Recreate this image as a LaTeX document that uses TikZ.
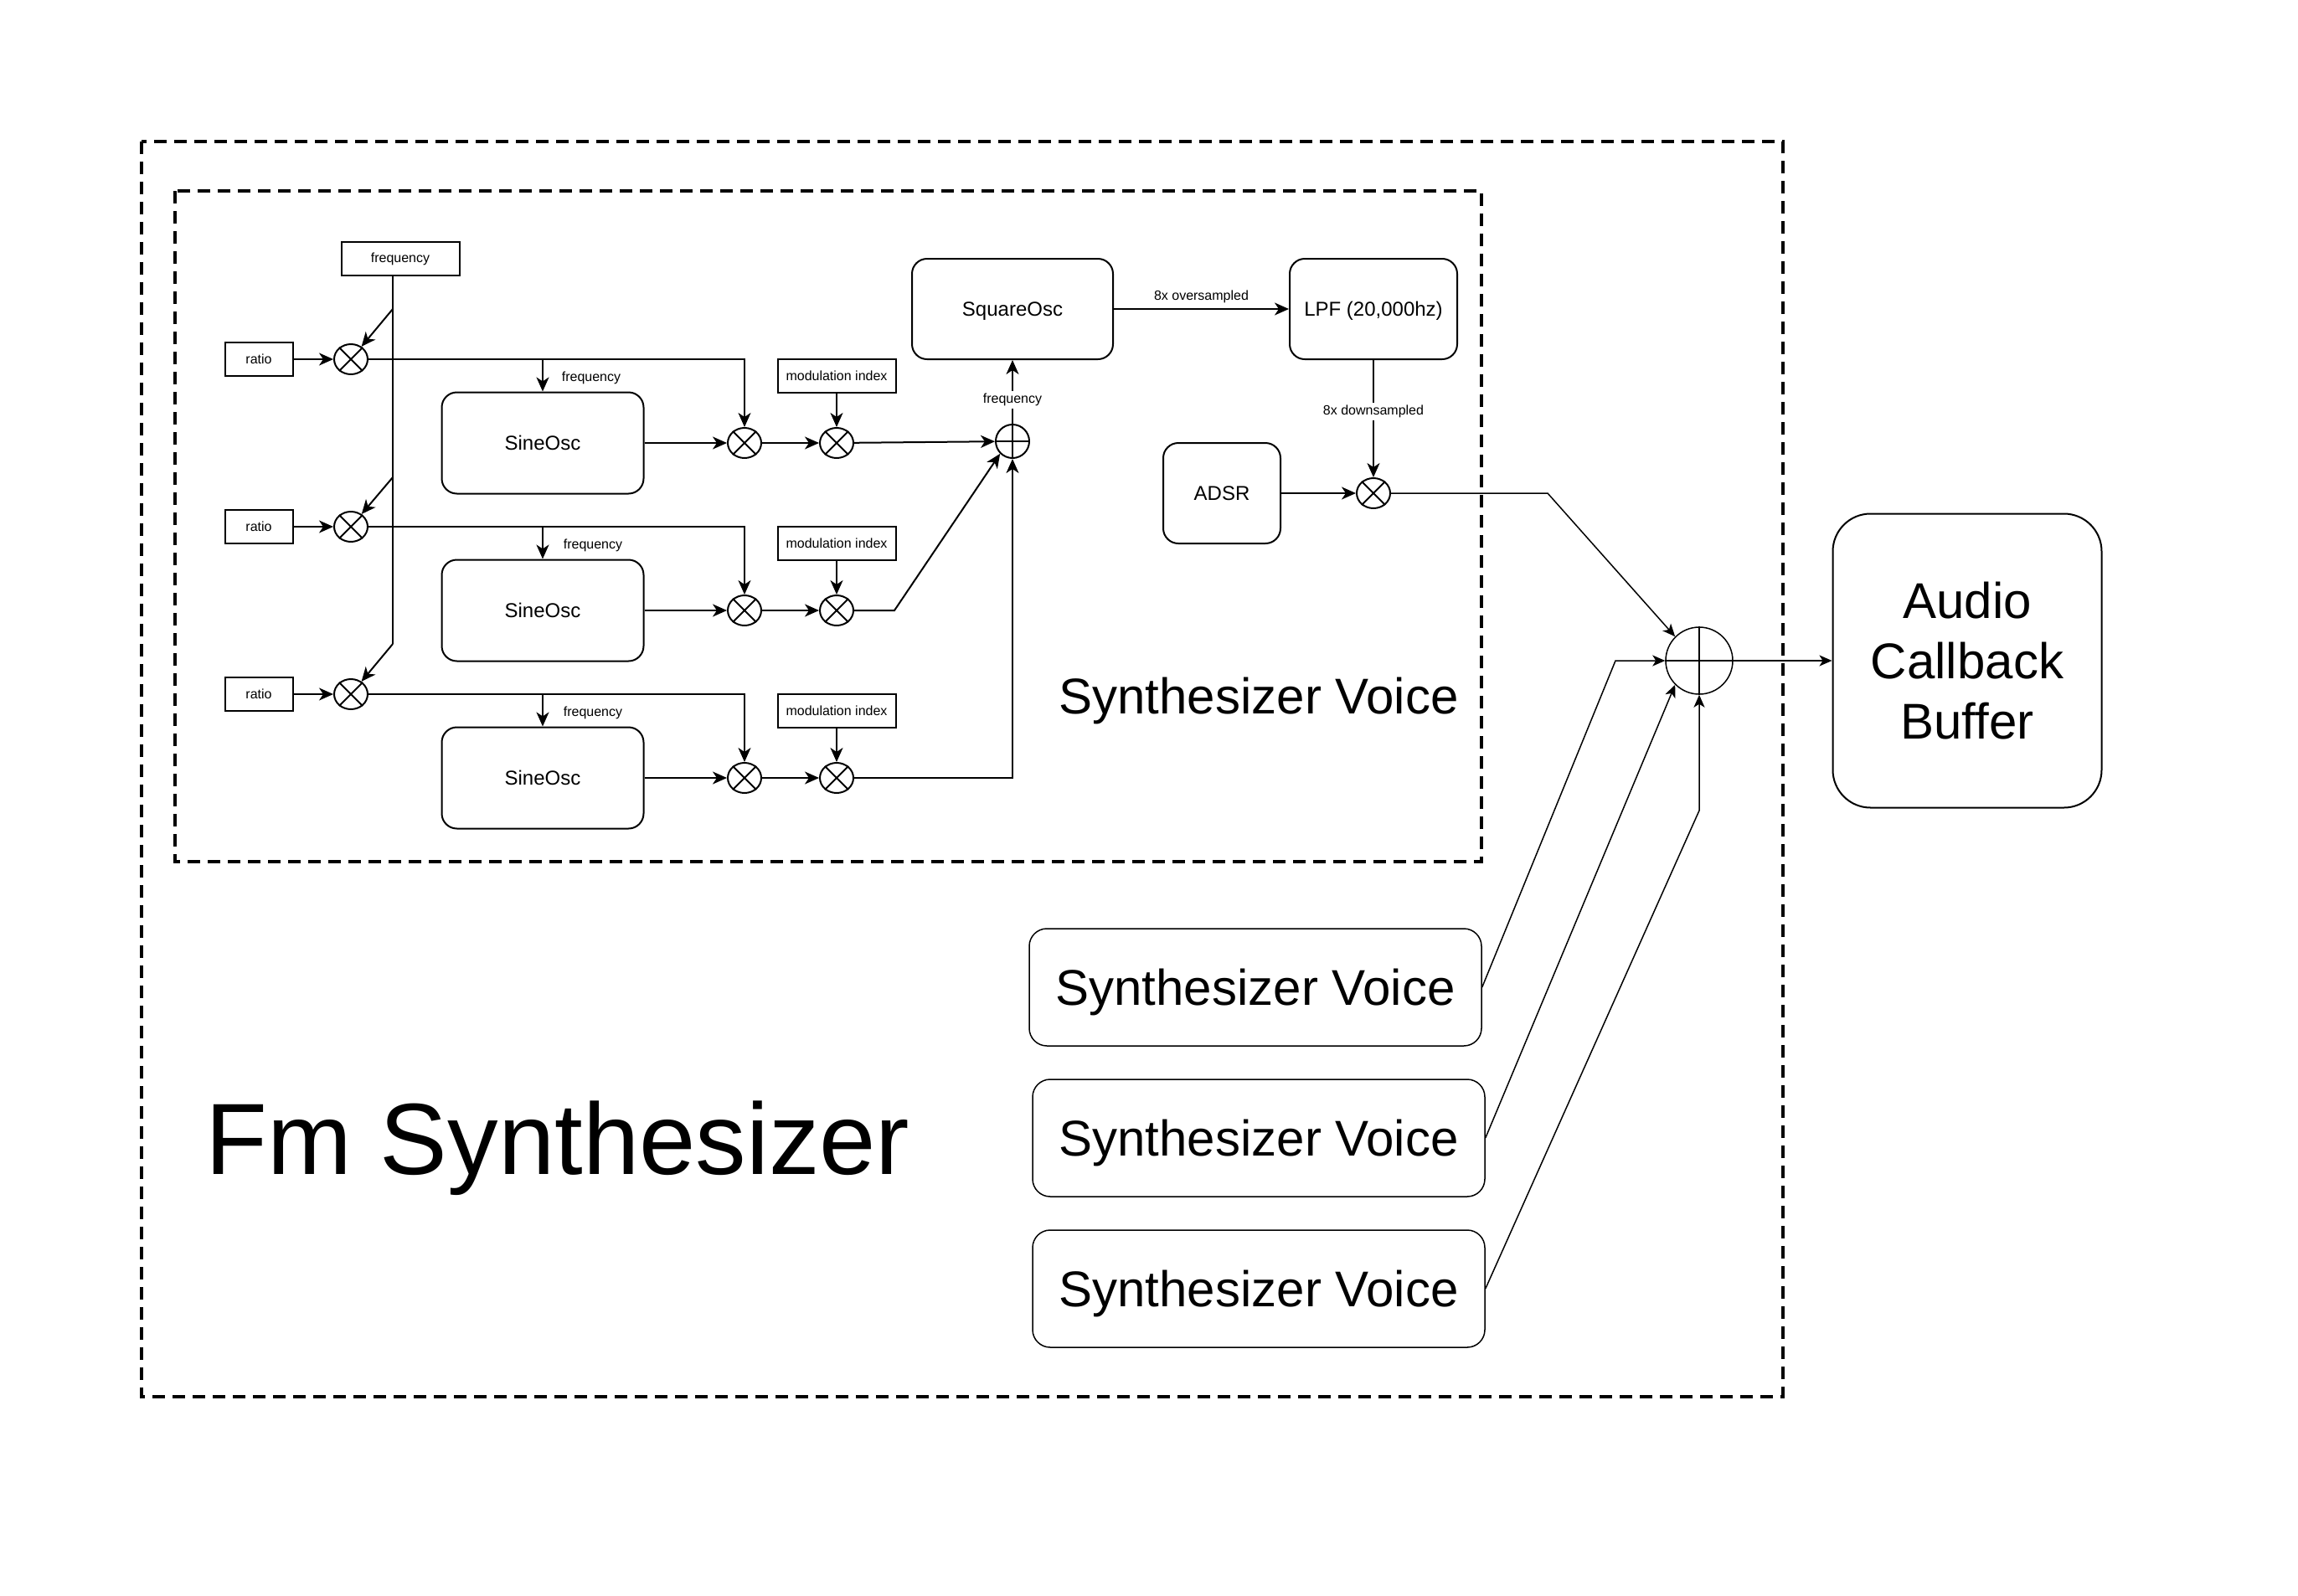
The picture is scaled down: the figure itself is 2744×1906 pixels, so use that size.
\documentclass[tikz,border=0pt]{standalone}
\usepackage{fontspec}
\setmainfont{Liberation Sans}
\usepackage{tikz}
\usetikzlibrary{arrows.meta}
\usetikzlibrary{shapes}

\begin{document}
\begin{tikzpicture}[x=1pt,y=1pt,yscale=-1,line width=2pt,
  >={Stealth[length=17pt,width=15pt,inset=5pt]},
  box/.style={draw,rectangle,inner sep=0pt,font=\fontsize{16}{19}\selectfont},
  block/.style={draw,rectangle,rounded corners=18pt,inner sep=0pt,text height=17pt,text depth=0pt,font=\fontsize{24}{29}\selectfont},
  mult/.style={draw,ellipse,minimum width=40pt,minimum height=36pt,inner sep=0pt},
  adder/.style={draw,circle,minimum size=40pt,inner sep=0pt},
  lbl/.style={font=\fontsize{16}{19}\selectfont,inner sep=2pt},
  wire/.style={line width=1.5pt,>={Stealth[length=15pt,width=13pt,inset=4pt]}},
  voice/.style={draw,rectangle,rounded corners=21pt,line width=1.5pt,minimum width=540pt,minimum height=140pt,inner sep=0pt,text height=43pt,text depth=0pt,font=\fontsize{60}{72}\selectfont},
  dashframe/.style={dash pattern=on 15pt off 9pt,line width=4pt}]
\useasboundingbox (0,0) rectangle (2744,1906);

%Shape: Rectangle (Fm Synthesizer frame)
\draw[dashframe] (169,169) rectangle (2129,1668);
%Shape: Rectangle (Synthesizer Voice frame)
\draw[dashframe] (209,228) rectangle (1769,1029);

%Shape: Rectangle
\node[box,minimum width=141pt,minimum height=40pt] (freqin) at (478,309) {frequency};

%Shape: Rectangle
\node[box,minimum width=81pt,minimum height=40pt] (ratioA) at (309,429) {ratio};
\node[box,minimum width=81pt,minimum height=40pt] (ratioB) at (309,629) {ratio};
\node[box,minimum width=81pt,minimum height=40pt] (ratioC) at (309,829) {ratio};

%Shape: Ellipse
\node[mult] (fmulA) at (419,429) {};
\node[mult] (fmulB) at (419,629) {};
\node[mult] (fmulC) at (419,829) {};

%Shape: Rounded Rect
\node[block,minimum width=241pt,minimum height=121pt] (sineA) at (648,529) {SineOsc};
\node[block,minimum width=241pt,minimum height=121pt] (sineB) at (648,729) {SineOsc};
\node[block,minimum width=241pt,minimum height=121pt] (sineC) at (648,929) {SineOsc};

%Shape: Ellipse
\node[mult] (cmulA) at (889,529) {};
\node[mult] (cmulB) at (889,729) {};
\node[mult] (cmulC) at (889,929) {};
\node[mult] (imulA) at (999,529) {};
\node[mult] (imulB) at (999,729) {};
\node[mult] (imulC) at (999,929) {};

%Shape: Rectangle
\node[box,minimum width=141pt,minimum height=40pt] (modA) at (999,449) {modulation index};
\node[box,minimum width=141pt,minimum height=40pt] (modB) at (999,649) {modulation index};
\node[box,minimum width=141pt,minimum height=40pt] (modC) at (999,849) {modulation index};

%Shape: Circle
\node[adder] (sum) at (1209,527) {};

%Shape: Rounded Rect
\node[block,minimum width=240pt,minimum height=120pt] (square) at (1209,369) {SquareOsc};
\node[block,minimum width=200pt,minimum height=120pt] (lpf) at (1640,369) {LPF (20,000hz)};
\node[block,minimum width=140pt,minimum height=120pt] (adsr) at (1459,589) {ADSR};

%Shape: Ellipse
\node[mult] (amul) at (1640,589) {};

%Shape: Circle
\node[adder,minimum size=80pt,line width=1.5pt] (mix) at (2029,789) {};

%Shape: Rounded Rect
\node[draw,rounded corners=45pt,inner sep=0pt,minimum width=321pt,minimum height=351pt,align=center,font=\fontsize{60}{72}\selectfont] (audio) at (2349,789) {Audio\\Callback\\Buffer};

%Shape: Rounded Rect
\node[voice] (voiceA) at (1499,1179) {Synthesizer Voice};
\node[voice] (voiceB) at (1503,1359) {Synthesizer Voice};
\node[voice] (voiceC) at (1503,1539) {Synthesizer Voice};

%Straight Lines (crosses)
\draw (fmulA.45) -- (fmulA.225) (fmulA.135) -- (fmulA.315);
\draw (fmulB.45) -- (fmulB.225) (fmulB.135) -- (fmulB.315);
\draw (fmulC.45) -- (fmulC.225) (fmulC.135) -- (fmulC.315);
\draw (cmulA.45) -- (cmulA.225) (cmulA.135) -- (cmulA.315);
\draw (cmulB.45) -- (cmulB.225) (cmulB.135) -- (cmulB.315);
\draw (cmulC.45) -- (cmulC.225) (cmulC.135) -- (cmulC.315);
\draw (imulA.45) -- (imulA.225) (imulA.135) -- (imulA.315);
\draw (imulB.45) -- (imulB.225) (imulB.135) -- (imulB.315);
\draw (imulC.45) -- (imulC.225) (imulC.135) -- (imulC.315);
\draw (amul.45) -- (amul.225) (amul.135) -- (amul.315);
\draw (sum.north) -- (sum.south) (sum.west) -- (sum.east);
\draw[wire] (mix.north) -- (mix.south) (mix.west) -- (mix.east);

%Straight Lines (frequency bus)
\coordinate (busA) at (469,369);
\coordinate (busB) at (469,570);
\coordinate (busC) at (469,769);
\draw (freqin.south -| busA) -- (busC);
\draw[->] (busA) -- (fmulA);
\draw[->] (busB) -- (fmulB);
\draw[->] (busC) -- (fmulC);

%Straight Lines (ratio)
\draw[->] (ratioA) -- (fmulA);
\draw[->] (ratioB) -- (fmulB);
\draw[->] (ratioC) -- (fmulC);

%Straight Lines (carrier frequency)
\draw[->] (fmulA) -| (cmulA);
\draw[->] (fmulB) -| (cmulB);
\draw[->] (fmulC) -| (cmulC);
\draw[->] (sineA.north |- fmulA) -- (sineA.north);
\draw[->] (sineB.north |- fmulB) -- (sineB.north);
\draw[->] (sineC.north |- fmulC) -- (sineC.north);

%Straight Lines (oscillator outputs)
\draw[->] (sineA) -- (cmulA);
\draw[->] (sineB) -- (cmulB);
\draw[->] (sineC) -- (cmulC);
\draw[->] (cmulA) -- (imulA);
\draw[->] (cmulB) -- (imulB);
\draw[->] (cmulC) -- (imulC);
\draw[->] (modA) -- (imulA);
\draw[->] (modB) -- (imulB);
\draw[->] (modC) -- (imulC);

%Straight Lines (to sum)
\coordinate (bendB) at (1068,729);
\draw[->] (imulA) -- (sum);
\draw[->] (imulB) -- (bendB) -- (sum.south west);
\draw[->] (imulC) -| (sum);

%Straight Lines (square path)
\draw[->] (sum) -- (square) node[lbl,pos=0.38,fill=white,inner sep=3pt] {frequency};
\draw[->] (square) -- (lpf) node[lbl,midway,above,inner sep=6pt] {8x oversampled};
\draw[->] (lpf) -- (amul) node[lbl,pos=0.44,fill=white,inner sep=3pt] {8x downsampled};
\draw[->] (adsr) -- (amul);

%Straight Lines (mix)
\coordinate (bendE) at (1848,589);
\coordinate (bendA) at (1929,789);
\coordinate (bendC) at (2029,968);
\draw[wire,->] (amul) -- (bendE) -- (mix.north west);
\draw[wire,->] (voiceA.east) -- (bendA) -- (mix);
\draw[wire,->] (voiceB.east) -- (mix.south west);
\draw[wire,->] (voiceC.east) -- (bendC) -- (mix);
\draw[wire,->] (mix) -- (audio);

% Text Node
\node[lbl] (fqlA) at (706,451) {frequency};
\node[lbl] (fqlB) at (708,651) {frequency};
\node[lbl] (fqlC) at (708,851) {frequency};
% Text Node
\node[anchor=base,font=\fontsize{60}{72}\selectfont] (voicetitle) at (1503,852) {Synthesizer Voice};
% Text Node
\node[anchor=base,font=\fontsize{121}{145}\selectfont] (fmtitle) at (666,1402) {Fm Synthesizer};

\end{tikzpicture}
\end{document}
